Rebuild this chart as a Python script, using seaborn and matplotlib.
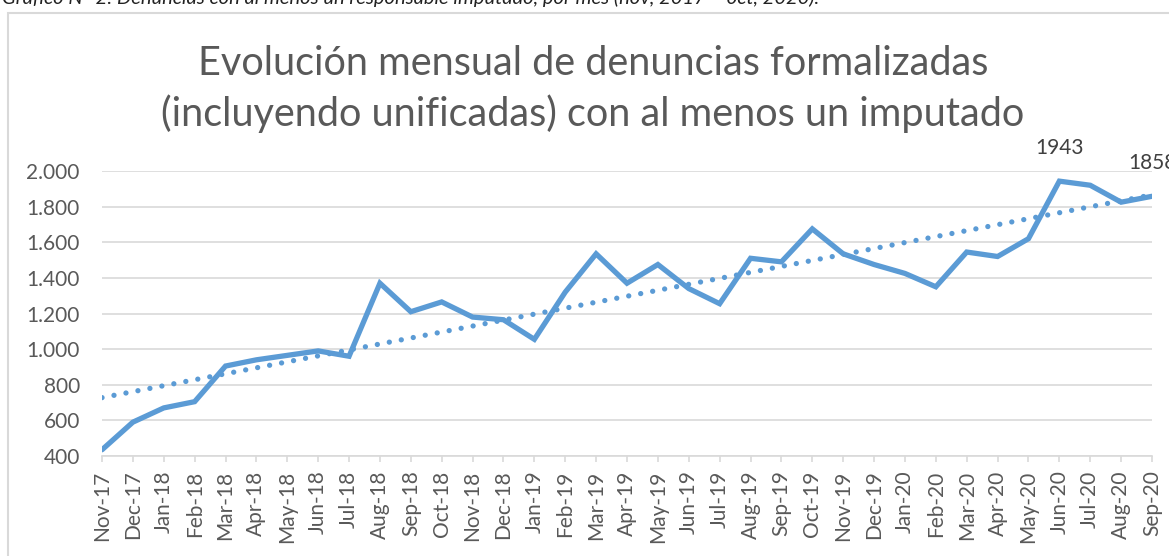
import numpy as np
import pandas as pd
import matplotlib
matplotlib.use("Agg")
import matplotlib.pyplot as plt
from matplotlib.patches import Rectangle
import seaborn as sns

months = ["Nov-17", "Dec-17", "Jan-18", "Feb-18", "Mar-18", "Apr-18", "May-18", "Jun-18",
          "Jul-18", "Aug-18", "Sep-18", "Oct-18", "Nov-18", "Dec-18", "Jan-19", "Feb-19",
          "Mar-19", "Apr-19", "May-19", "Jun-19", "Jul-19", "Aug-19", "Sep-19", "Oct-19",
          "Nov-19", "Dec-19", "Jan-20", "Feb-20", "Mar-20", "Apr-20", "May-20", "Jun-20",
          "Jul-20", "Aug-20", "Sep-20"]
denuncias = [435, 590, 670, 705, 905, 940, 965, 990, 960, 1370, 1210, 1265, 1180, 1165,
             1055, 1320, 1535, 1370, 1475, 1340, 1255, 1510, 1490, 1675, 1535, 1475, 1425,
             1350, 1545, 1520, 1620, 1943, 1920, 1825, 1858]
labeled = {"Jun-20": 1943, "Sep-20": 1858}
yticks = [400, 600, 800, 1000, 1200, 1400, 1600, 1800, 2000]

title = "Evolución mensual de denuncias formalizadas\n(incluyendo unificadas) con al menos un imputado"
caption = "Gráfico N° 2: Denuncias con al menos un responsable imputado, por mes (nov, 2017 – oct, 2020)."

blue = "#5B9BD5"
grey_txt = "#595959"
grid_c = "#D9D9D9"

df = pd.DataFrame({"mes": months, "n": denuncias})
df["pos"] = range(len(df))

sns.set_style("white")
plt.rcParams["font.family"] = ["Lato", "DejaVu Sans"]

fig = plt.figure(figsize=(11.69, 5.56), dpi=100)
ax = fig.add_axes([102 / 1169, 1 - 456 / 556, 1050 / 1169, 285 / 556])

# linear trend line (Excel style)
coef = np.polyfit(df["pos"], df["n"], 1)
df["trend"] = np.polyval(coef, df["pos"])
sns.lineplot(data=df, x="pos", y="trend", ax=ax, color=blue, lw=3.8,
             linestyle=(0, (0.01, 2.3)), dash_capstyle="round", zorder=2)
sns.lineplot(data=df, x="pos", y="n", ax=ax, color=blue, lw=3.8, zorder=3,
             solid_joinstyle="miter")

for m, v in labeled.items():
    i = months.index(m)
    ax.annotate(str(v), (i, v), xytext=(0, 24), textcoords="offset points",
                ha="center", va="center", fontsize=15, color="#404040",
                annotation_clip=False)

ax.set_xlim(0, len(months) - 1)
ax.set_ylim(400, 2000)
ax.set_yticks(yticks)
ax.set_yticklabels([f"{v:,}".replace(",", ".") for v in yticks])
ax.set_xticks(df["pos"])
ax.set_xticklabels(months, rotation=90)
ax.set_xlabel("")
ax.set_ylabel("")
ax.grid(axis="y", color=grid_c, lw=1.2)
ax.set_axisbelow(True)
for s in ["top", "right", "left"]:
    ax.spines[s].set_visible(False)
ax.spines["bottom"].set_color(grid_c)
ax.spines["bottom"].set_linewidth(1.2)
ax.tick_params(axis="y", length=0, pad=16, labelsize=15, labelcolor=grey_txt)
ax.tick_params(axis="x", bottom=True, length=4.5, width=1.2, color=grid_c, pad=6,
               labelsize=15, labelcolor=grey_txt)

fig.text(0.5071, 1 - 89 / 556, title, ha="center", va="center", fontsize=28.5,
         color=grey_txt, linespacing=1.4)
fig.text(0.002, 1 - 4 / 556, caption, ha="left", va="baseline", fontsize=14.5,
         style="italic", color="#222222")

fig.patches.append(Rectangle((8 / 1169, -0.05), 1.2, 1 - 13 / 556 + 0.05,
                             transform=fig.transFigure, fill=False,
                             edgecolor=grid_c, lw=1.5))

fig.savefig("out.png", dpi=100)
